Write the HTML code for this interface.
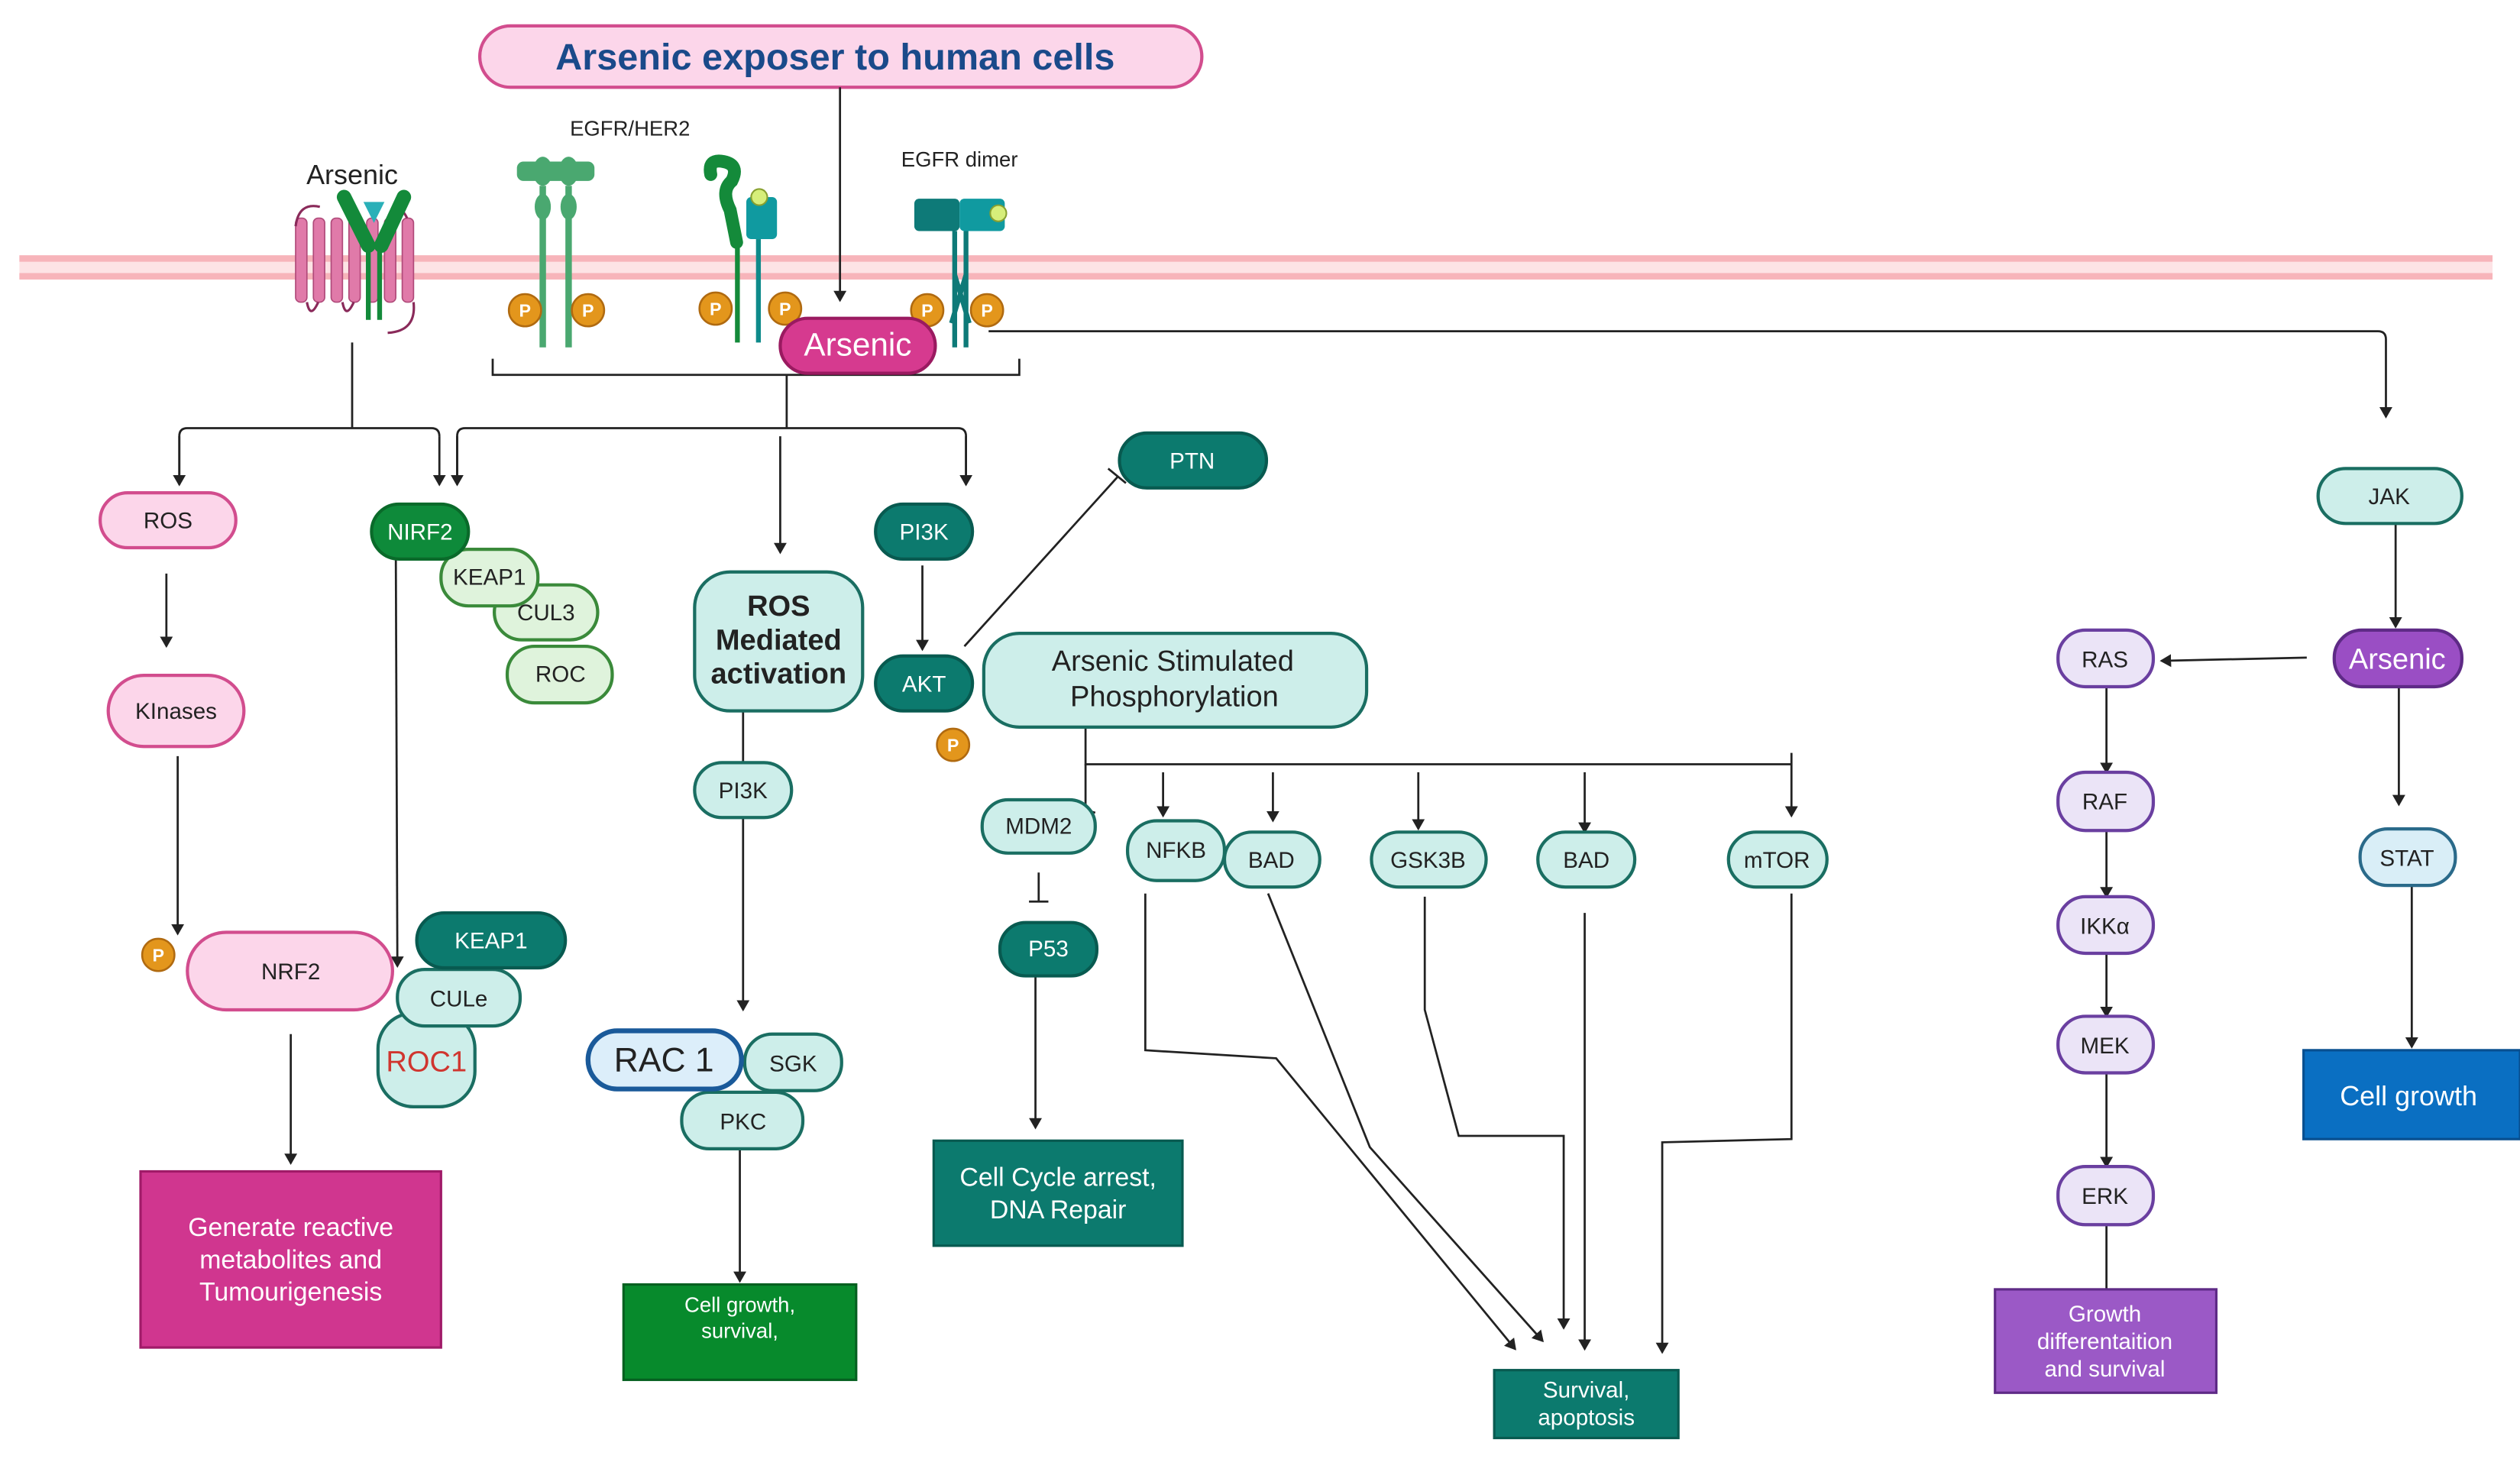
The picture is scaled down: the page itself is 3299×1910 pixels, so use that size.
<!DOCTYPE html>
<html><head><meta charset="utf-8"><style>
html,body{margin:0;padding:0;background:#fff;}
svg{display:block;}
text{font-family:"Liberation Sans",sans-serif;}
</style></head><body>
<svg width="3299" height="1910" viewBox="0 0 1560 903" preserveAspectRatio="none" xmlns="http://www.w3.org/2000/svg">
<defs>
<marker id="a" markerWidth="8" markerHeight="8" refX="6" refY="4" orient="auto" markerUnits="userSpaceOnUse"><path d="M0,0 L7,4 L0,8 Z" fill="#222"/></marker>
</defs>
<rect width="1560" height="903" fill="#fff"/>
<!-- membrane -->
<rect x="12" y="158" width="1531" height="15" fill="#fde3e5"/>
<rect x="12" y="158" width="1531" height="4" fill="#f7b4ba"/>
<rect x="12" y="169" width="1531" height="4" fill="#f7b4ba"/>

<!-- title -->
<rect x="297" y="16" width="447" height="38" rx="19" fill="#fcd6ea" stroke="#d24d8e" stroke-width="2"/>
<text x="517" y="43" font-size="23" font-weight="bold" fill="#1a4a8a" text-anchor="middle">Arsenic exposer to human cells</text>
<text x="218" y="114" font-size="17" text-anchor="middle" fill="#222">Arsenic</text>
<text x="390" y="84" font-size="13" text-anchor="middle" fill="#222">EGFR/HER2</text>
<text x="594" y="103" font-size="13" text-anchor="middle" fill="#222">EGFR dimer</text>

<!-- left GPCR receptor -->
<g fill="#e07aa9" stroke="#b04a7a" stroke-width="0.8">
<rect x="183" y="135" width="7" height="52" rx="3"/><rect x="194" y="135" width="7" height="52" rx="3"/><rect x="205" y="135" width="7" height="52" rx="3"/><rect x="216" y="135" width="7" height="52" rx="3"/><rect x="227" y="135" width="7" height="52" rx="3"/><rect x="238" y="135" width="7" height="52" rx="3"/><rect x="249" y="135" width="7" height="52" rx="3"/>
</g>
<path d="M183,140 Q185,125 198,128 M190,187 Q192,198 197,187 M212,187 Q214,198 219,187 M245,135 Q247,125 252,135 M256,187 Q258,205 240,206" fill="none" stroke="#8a2a5a" stroke-width="1.5"/>
<path d="M213,122 L228,152 M250,122 L236,152" stroke="#138a3a" stroke-width="9" stroke-linecap="round"/>
<path d="M228,150 L228,198 M235,150 L235,198" stroke="#138a3a" stroke-width="3"/>
<path d="M225,125 L238,125 L231.5,138 Z" fill="#2ab0b8"/>

<!-- EGFR/HER2 receptor -->
<g fill="#4aa870">
<rect x="320" y="100" width="48" height="12" rx="4"/>
<ellipse cx="336" cy="106" rx="6" ry="9"/><ellipse cx="352" cy="106" rx="6" ry="9"/>
<ellipse cx="336" cy="128" rx="5" ry="8"/><ellipse cx="352" cy="128" rx="5" ry="8"/>
<rect x="334" y="115" width="4" height="100"/><rect x="350" y="115" width="4" height="100"/>
</g>
<!-- second receptor -->
<path d="M440,108 Q438,98 448,100 Q458,102 453,112 Q446,118 452,130 L456,150" fill="none" stroke="#148a3a" stroke-width="8" stroke-linecap="round"/>
<rect x="455" y="148" width="3" height="64" fill="#148a3a"/>
<rect x="462" y="122" width="19" height="26" rx="3" fill="#109aa0"/>
<circle cx="470" cy="122" r="5" fill="#d6ee7a" stroke="#88a030"/>
<rect x="468" y="148" width="3" height="64" fill="#0e8a8a"/>
<!-- dimer -->
<rect x="566" y="123" width="28" height="20" rx="3" fill="#0e7a78"/>
<rect x="594" y="123" width="28" height="20" rx="3" fill="#109aa0"/>
<circle cx="618" cy="132" r="5" fill="#d6ee7a" stroke="#88a030"/>
<path d="M591,143 L591,215 M598,143 L598,215 M591,170 L600,200 M598,170 L589,200" stroke="#0e7a78" stroke-width="3" fill="none"/>

<!-- P circles -->
<g fill="#e3961c" stroke="#b06a10" stroke-width="1.2">
<circle cx="325" cy="192" r="10"/><circle cx="364" cy="192" r="10"/><circle cx="443" cy="191" r="10"/><circle cx="486" cy="191" r="10"/><circle cx="574" cy="192" r="10"/><circle cx="611" cy="192" r="10"/>
<circle cx="590" cy="461" r="10"/><circle cx="98" cy="591" r="10"/>
</g>
<g font-size="11" fill="#fff" text-anchor="middle" font-weight="bold">
<text x="325" y="196">P</text><text x="364" y="196">P</text><text x="443" y="195">P</text><text x="486" y="195">P</text><text x="574" y="196">P</text><text x="611" y="196">P</text><text x="590" y="465">P</text><text x="98" y="595">P</text>
</g>

<!-- connectors -->
<g stroke="#222" stroke-width="1.3" fill="none">
<path d="M520,54 L520,186" marker-end="url(#a)"/>
<path d="M305,222 L305,232 L631,232 L631,222"/>
<path d="M487,232 L487,265 M283,300 L283,270 Q283,265 288,265 L593,265 Q598,265 598,270 L598,300" />
<path d="M283,270 L283,300" marker-end="url(#a)"/><path d="M598,270 L598,300" marker-end="url(#a)"/>
<path d="M483,270 L483,342" marker-end="url(#a)"/>
<path d="M218,212 L218,265 M111,300 L111,270 Q111,265 116,265 L267,265 Q272,265 272,270"/>
<path d="M111,270 L111,300" marker-end="url(#a)"/><path d="M272,270 L272,300" marker-end="url(#a)"/>
<path d="M612,205 L1472,205 Q1477,205 1477,210 L1477,258" marker-end="url(#a)"/>
<path d="M103,355 L103,400" marker-end="url(#a)"/>
<path d="M110,468 L110,578" marker-end="url(#a)"/>
<path d="M180,640 L180,720" marker-end="url(#a)"/>
<path d="M245,335 L246,598" marker-end="url(#a)"/>
<path d="M460,440 L460,472"/>
<path d="M460,506 L460,625" marker-end="url(#a)"/>
<path d="M458,711 L458,793" marker-end="url(#a)"/>
<path d="M571,350 L571,402" marker-end="url(#a)"/>
<path d="M597,400 L692,295 M686,290 L697,299"/>
<path d="M672,450 L672,473 L1109,473 M1109,466 L1109,473"/>
<path d="M672,473 L672,500 M667,500 L678,503"/>
<path d="M720,478 L720,505" marker-end="url(#a)"/>
<path d="M788,478 L788,508" marker-end="url(#a)"/>
<path d="M878,478 L878,513" marker-end="url(#a)"/>
<path d="M981,478 L981,515" marker-end="url(#a)"/>
<path d="M1109,473 L1109,505" marker-end="url(#a)"/>
<path d="M643,540 L643,558 M637,558 L649,558"/>
<path d="M641,604 L641,698" marker-end="url(#a)"/>
<path d="M709,553 L709,650 L790,655 L938,835" marker-end="url(#a)"/>
<path d="M785,553 L848,710 L955,830" marker-end="url(#a)"/>
<path d="M882,555 L882,625 L903,703 L968,703 L968,822" marker-end="url(#a)"/>
<path d="M981,565 L981,835" marker-end="url(#a)"/>
<path d="M1109,553 L1109,705 L1029,707 L1029,837" marker-end="url(#a)"/>
<path d="M1483,324 L1483,388" marker-end="url(#a)"/>
<path d="M1428,407 L1338,409" marker-end="url(#a)"/>
<path d="M1304,425 L1304,478" marker-end="url(#a)"/>
<path d="M1304,514 L1304,555" marker-end="url(#a)"/>
<path d="M1304,590 L1304,629" marker-end="url(#a)"/>
<path d="M1304,664 L1304,722" marker-end="url(#a)"/>
<path d="M1304,758 L1304,798"/>
<path d="M1485,425 L1485,498" marker-end="url(#a)"/>
<path d="M1493,548 L1493,648" marker-end="url(#a)"/>
</g>

<!-- Arsenic pill -->
<rect x="483" y="197" width="96" height="34" rx="17" fill="#d63a8f" stroke="#9a1a60" stroke-width="2"/>
<text x="531" y="220" font-size="20" fill="#fff" text-anchor="middle">Arsenic</text>

<!-- nodes -->
<g stroke-width="2" font-size="14" text-anchor="middle">
<rect x="62" y="305" width="84" height="34" rx="17" fill="#fcd6ea" stroke="#d24d8e"/>
<rect x="67" y="418" width="84" height="44" rx="22" fill="#fcd6ea" stroke="#d24d8e"/>
<rect x="116" y="577" width="127" height="48" rx="24" fill="#fcd6ea" stroke="#d24d8e"/>

<rect x="314" y="400" width="65" height="35" rx="17" fill="#dff3dc" stroke="#3a8a3a"/>
<rect x="306" y="362" width="64" height="34" rx="17" fill="#dff3dc" stroke="#3a8a3a"/>
<rect x="273" y="340" width="60" height="35" rx="17" fill="#dff3dc" stroke="#3a8a3a"/>
<rect x="230" y="312" width="60" height="34" rx="17" fill="#0e8a3a" stroke="#0a6a2a"/>

<rect x="234" y="627" width="60" height="58" rx="22" fill="#cdeeea" stroke="#1a6e62"/>
<rect x="246" y="600" width="76" height="35" rx="17" fill="#cdeeea" stroke="#1a6e62"/>
<rect x="258" y="565" width="92" height="34" rx="17" fill="#0c7a6e" stroke="#085a50"/>

<rect x="430" y="354" width="104" height="86" rx="22" fill="#cdeeea" stroke="#1a6e62"/>
<rect x="430" y="472" width="60" height="34" rx="17" fill="#cdeeea" stroke="#1a6e62"/>
<rect x="461" y="640" width="60" height="35" rx="17" fill="#cdeeea" stroke="#1a6e62"/>
<rect x="422" y="676" width="75" height="35" rx="17" fill="#cdeeea" stroke="#1a6e62"/>
<rect x="364" y="638" width="95" height="36" rx="18" fill="#dceefa" stroke="#1a5a9a" stroke-width="3"/>

<rect x="542" y="312" width="60" height="34" rx="17" fill="#0c7a6e" stroke="#085a50"/>
<rect x="542" y="406" width="60" height="34" rx="17" fill="#0c7a6e" stroke="#085a50"/>
<rect x="693" y="268" width="91" height="34" rx="17" fill="#0c7a6e" stroke="#085a50"/>
<rect x="609" y="392" width="237" height="58" rx="22" fill="#cdeeea" stroke="#1a6e62"/>

<rect x="608" y="495" width="70" height="33" rx="16" fill="#cdeeea" stroke="#1a6e62"/>
<rect x="619" y="571" width="60" height="33" rx="16" fill="#0c7a6e" stroke="#085a50"/>
<rect x="758" y="515" width="59" height="34" rx="17" fill="#cdeeea" stroke="#1a6e62"/>
<rect x="698" y="508" width="60" height="37" rx="18" fill="#cdeeea" stroke="#1a6e62"/>
<rect x="849" y="515" width="71" height="34" rx="17" fill="#cdeeea" stroke="#1a6e62"/>
<rect x="952" y="515" width="60" height="34" rx="17" fill="#cdeeea" stroke="#1a6e62"/>
<rect x="1070" y="515" width="61" height="34" rx="17" fill="#cdeeea" stroke="#1a6e62"/>

<rect x="1435" y="290" width="89" height="34" rx="17" fill="#cdeeea" stroke="#1a6e62"/>
<rect x="1445" y="390" width="79" height="35" rx="17" fill="#9a4ec4" stroke="#5e2a86"/>
<rect x="1274" y="390" width="59" height="35" rx="17" fill="#ebe4f7" stroke="#6a3fa0"/>
<rect x="1274" y="478" width="59" height="36" rx="17" fill="#ebe4f7" stroke="#6a3fa0"/>
<rect x="1274" y="555" width="59" height="35" rx="17" fill="#ebe4f7" stroke="#6a3fa0"/>
<rect x="1274" y="629" width="59" height="35" rx="17" fill="#ebe4f7" stroke="#6a3fa0"/>
<rect x="1274" y="722" width="59" height="36" rx="17" fill="#ebe4f7" stroke="#6a3fa0"/>
<rect x="1461" y="513" width="59" height="35" rx="17" fill="#d9eef7" stroke="#2a6a8a"/>
</g>

<!-- boxes -->
<rect x="87" y="725" width="186" height="109" fill="#d0368f" stroke="#a01a68" stroke-width="1.5"/>
<rect x="386" y="795" width="144" height="59" fill="#078a2c" stroke="#056020" stroke-width="1.5"/>
<rect x="578" y="706" width="154" height="65" fill="#0c7a6e" stroke="#085a50" stroke-width="1.5"/>
<rect x="925" y="848" width="114" height="42" fill="#0c7a6e" stroke="#085a50" stroke-width="1.5"/>
<rect x="1235" y="798" width="137" height="64" fill="#9b59c6" stroke="#5e2a86" stroke-width="1.5"/>
<rect x="1426" y="650" width="134" height="55" fill="#0a6fc2" stroke="#084f90" stroke-width="1.5"/>

<!-- labels -->
<g font-size="14" text-anchor="middle" fill="#222">
<text x="104" y="327">ROS</text>
<text x="109" y="445">KInases</text>
<text x="180" y="606">NRF2</text>
<text x="260" y="334" fill="#fff">NIRF2</text>
<text x="303" y="362">KEAP1</text>
<text x="338" y="384">CUL3</text>
<text x="347" y="422">ROC</text>
<text x="304" y="587" fill="#fff">KEAP1</text>
<text x="284" y="623">CULe</text>
<text x="264" y="663" fill="#d0352f" font-size="18">ROC1</text>
<text x="482" y="381" font-size="18" font-weight="bold">ROS</text>
<text x="482" y="402" font-size="18" font-weight="bold">Mediated</text>
<text x="482" y="423" font-size="18" font-weight="bold">activation</text>
<text x="460" y="494">PI3K</text>
<text x="411" y="663" font-size="21">RAC 1</text>
<text x="491" y="663">SGK</text>
<text x="460" y="699">PKC</text>
<text x="572" y="334" fill="#fff">PI3K</text>
<text x="572" y="428" fill="#fff">AKT</text>
<text x="738" y="290" fill="#fff">PTN</text>
<text x="726" y="415" font-size="18">Arsenic Stimulated</text>
<text x="727" y="437" font-size="18">Phosphorylation</text>
<text x="643" y="516">MDM2</text>
<text x="649" y="592" fill="#fff">P53</text>
<text x="728" y="531">NFKB</text>
<text x="787" y="537">BAD</text>
<text x="884" y="537">GSK3B</text>
<text x="982" y="537">BAD</text>
<text x="1100" y="537">mTOR</text>
<text x="1479" y="312">JAK</text>
<text x="1484" y="414" fill="#fff" font-size="18">Arsenic</text>
<text x="1303" y="413">RAS</text>
<text x="1303" y="501">RAF</text>
<text x="1303" y="578">IKKα</text>
<text x="1303" y="652">MEK</text>
<text x="1303" y="745">ERK</text>
<text x="1490" y="536">STAT</text>
</g>
<g text-anchor="middle" fill="#fff">
<text x="180" y="765" font-size="16">Generate reactive</text>
<text x="180" y="785" font-size="16">metabolites and</text>
<text x="180" y="805" font-size="16">Tumourigenesis</text>
<text x="458" y="812" font-size="13">Cell growth,</text>
<text x="458" y="828" font-size="13">survival,</text>
<text x="655" y="734" font-size="16">Cell Cycle arrest,</text>
<text x="655" y="754" font-size="16">DNA Repair</text>
<text x="982" y="865" font-size="14">Survival,</text>
<text x="982" y="882" font-size="14">apoptosis</text>
<text x="1303" y="818" font-size="14">Growth</text>
<text x="1303" y="835" font-size="14">differentaition</text>
<text x="1303" y="852" font-size="14">and survival</text>
<text x="1491" y="684" font-size="17">Cell growth</text>
</g>
</svg>
</body></html>
